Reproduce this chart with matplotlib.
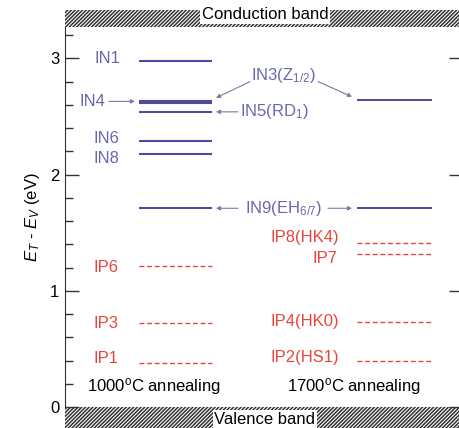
import matplotlib
matplotlib.use("Agg")
import matplotlib.pyplot as plt
from matplotlib.patches import Rectangle
from matplotlib.ticker import MultipleLocator

plt.rcParams['font.family'] = ['Liberation Sans', 'DejaVu Sans']
plt.rcParams['mathtext.fontset'] = 'custom'
plt.rcParams['mathtext.rm'] = 'Liberation Sans'
plt.rcParams['mathtext.it'] = 'Liberation Sans:italic'
plt.rcParams['hatch.linewidth'] = 1.1

# ---- data (eV above valence band) ----
n_left_names = ["IN1", "IN3", "IN4", "IN5", "IN6", "IN8", "IN9"]
n_left_levels = [2.98, 2.635, 2.615, 2.54, 2.29, 2.175, 1.71]
p_left_names = ["IP6", "IP3", "IP1"]
p_left_levels = [1.215, 0.725, 0.375]
n_right_names = ["IN3", "IN9"]
n_right_levels = [2.64, 1.71]
p_right_names = ["IP8", "IP7", "IP4", "IP2"]
p_right_levels = [1.41, 1.32, 0.733, 0.40]
yticks = [0, 1, 2, 3]

BLUE_LINE = '#4c4c9c'
BLUE_TXT = '#6868b0'
RED = '#e8453e'
ARROW = '#7a7aa8'

fig = plt.figure(figsize=(4.6, 4.28), dpi=100)
ax = fig.add_axes([65/460, 21/428, 398/460, 380/428])
ax.set_xlim(65, 463)
ax.set_ylim(0, 3.27)

LX = (139, 212)
RX = (357, 432)

for v in n_left_levels:
    ax.plot(LX, [v, v], color=BLUE_LINE, lw=1.5, solid_capstyle='butt')
for v in n_right_levels:
    ax.plot(RX, [v, v], color=BLUE_LINE, lw=1.4, solid_capstyle='butt')
for v in p_left_levels:
    ax.plot(LX, [v, v], color=RED, lw=1.0, dashes=(3.5, 2))
for v in p_right_levels:
    ax.plot(RX, [v, v], color=RED, lw=1.0, dashes=(3.5, 2))

fs = 12
def T(x, y, s, c, ha='center'):
    ax.text(x, y, s, color=c, fontsize=fs, ha=ha, va='center')

T(107, 3.0, "IN1", BLUE_TXT)
T(92, 2.63, "IN4", BLUE_TXT)
T(283, 2.85, r"IN3(Z$_{1/2}$)", BLUE_TXT)
T(240, 2.54, r"IN5(RD$_{1}$)", BLUE_TXT, ha='left')
T(106, 2.313, "IN6", BLUE_TXT)
T(106, 2.14, "IN8", BLUE_TXT)
T(283, 1.711, r"IN9(EH$_{6/7}$)", BLUE_TXT)
T(305, 1.46, "IP8(HK4)", RED)
T(338, 1.28, "IP7", RED, ha='right')
T(106, 1.204, "IP6", RED)
T(305, 0.74, "IP4(HK0)", RED)
T(106, 0.722, "IP3", RED)
T(305, 0.43, "IP2(HS1)", RED)
T(106, 0.42, "IP1", RED)
T(154, 0.18, r"1000$^{\mathrm{o}}$C annealing", 'black')
T(354, 0.18, r"1700$^{\mathrm{o}}$C annealing", 'black')

def arrow(x0, y0, x1, y1):
    ax.annotate("", xy=(x1, y1), xytext=(x0, y0),
                arrowprops=dict(arrowstyle='-|>', color=ARROW, lw=0.8,
                                mutation_scale=6, shrinkA=0, shrinkB=0))

arrow(109, 2.63, 135, 2.63)
arrow(238, 2.54, 216, 2.54)
arrow(250, 2.80, 216, 2.66)
arrow(318, 2.80, 352, 2.67)
arrow(238, 1.71, 216, 1.71)
arrow(328, 1.71, 352, 1.71)

# axes styling
for s in ['top', 'bottom', 'right']:
    ax.spines[s].set_visible(False)
ax.spines['left'].set_color('#333333')
ax.set_yticks(yticks)
ax.yaxis.set_minor_locator(MultipleLocator(0.2))
ax.tick_params(axis='y', which='major', direction='in', length=10, width=1,
               labelsize=12, pad=4, right=True, colors='#333333', labelcolor='black')
ax.tick_params(axis='y', which='minor', direction='in', length=6, width=1, colors='#333333')
ax.set_xticks([])
ax.set_ylabel(r"$E_{T}$ - $E_{V}$ (eV)", fontsize=12, labelpad=6)

# hatched bands
top = Rectangle((0, 1.0), 1.0, 17/380, transform=ax.transAxes, clip_on=False,
                facecolor='white', edgecolor='#333333', hatch='/////////', lw=0)
bot = Rectangle((0, -22/380), 1.0, 22/380, transform=ax.transAxes, clip_on=False,
                facecolor='white', edgecolor='#333333', hatch='/////////', lw=0)
ax.add_patch(top)
ax.add_patch(bot)
ax.text((265-65)/398, 1 + 12/380, "Conduction band", transform=ax.transAxes,
        ha='center', va='center', fontsize=12,
        bbox=dict(facecolor='white', edgecolor='none', pad=1))
ax.text((265-65)/398, -12/380, "Valence band", transform=ax.transAxes,
        ha='center', va='center', fontsize=12,
        bbox=dict(facecolor='white', edgecolor='none', pad=1))

fig.savefig("out.png", dpi=100)
